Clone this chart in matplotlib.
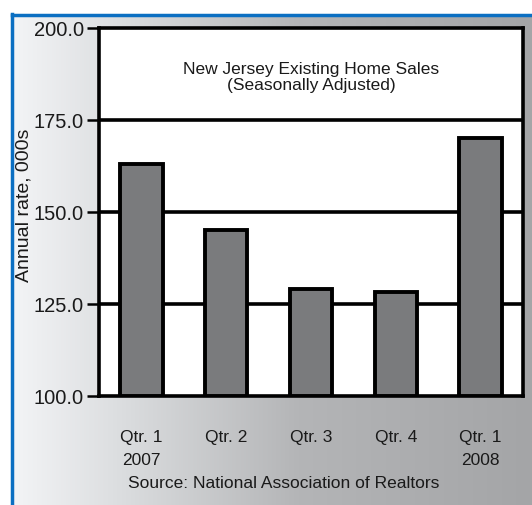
import matplotlib
matplotlib.use("Agg")
import matplotlib.pyplot as plt
import numpy as np
from matplotlib.colors import LinearSegmentedColormap

# quarterly existing home sales, seasonally adjusted annual rate (000s)
quarters = ["Qtr. 1\n2007", "Qtr. 2", "Qtr. 3", "Qtr. 4", "Qtr. 1\n2008"]
sales = [163.0, 145.0, 129.0, 128.3, 170.0]
yticks = [100.0, 125.0, 150.0, 175.0, 200.0]

plt.rcParams['font.family'] = ['Liberation Sans', 'DejaVu Sans']
txt_color = "#1a1a1a"

fig = plt.figure(figsize=(5.32, 5.06), dpi=100)
W, H = 532, 506

def fx(px):
    return px / W

def fy(py):
    return 1 - py / H

# gray gradient background inside the blue frame
bg = fig.add_axes([fx(13), 0, 1 - fx(13), fy(17)])
grad = np.linspace(0, 1, 256)
cmap = LinearSegmentedColormap.from_list(
    "bg", [(0, "#f3f4f6"), (0.2, "#dcdee0"), (0.55, "#b4b5b7"), (1, "#a4a5a7")])
bg.imshow(grad[None, :], aspect="auto", cmap=cmap, extent=[0, 1, 0, 1])
bg.set_axis_off()

# blue frame lines
fig.add_artist(plt.Line2D([fx(11.5), 1], [fy(15.5), fy(15.5)], color="#0b6fc2", lw=2.5))
fig.add_artist(plt.Line2D([fx(11.5), fx(11.5)], [0, fy(15)], color="#0b6fc2", lw=2.5))

left, right, top, bottom = 99, 523, 29, 397
ax = fig.add_axes([fx(left), fy(bottom), fx(right - left), (bottom - top) / H])
ax.set_facecolor("white")

x = np.arange(len(sales))
ax.bar(x, [s - 100 for s in sales], bottom=100, width=0.5,
       color="#7a7b7d", edgecolor="black", linewidth=2.8, zorder=3)

ax.set_xlim(-0.5, 4.5)
ax.set_ylim(100, 200)
ax.set_yticks(yticks)
ax.set_yticklabels([f"{v:.1f}" for v in yticks], fontsize=14.5, color=txt_color)
for v in yticks[1:-1]:
    ax.axhline(v, color="black", lw=2.6, zorder=2)
ax.tick_params(axis="y", length=9, width=1.8, pad=2, direction="out")
ax.set_xticks([])
for s in ax.spines.values():
    s.set_linewidth(2.6)

ax.text(0.5, 0.868, "New Jersey Existing Home Sales\n(Seasonally Adjusted)",
        transform=ax.transAxes, ha="center", va="center", fontsize=12.5,
        color=txt_color, linespacing=1.15)

# quarter labels below the plot
for i, q in enumerate(quarters):
    xf = fx(left) + (i + 0.5) / 5 * fx(right - left)
    lines = q.split("\n")
    fig.text(xf, fy(438), lines[0], ha="center", va="center", fontsize=12.5,
             color=txt_color)
    if len(lines) > 1:
        fig.text(xf, fy(461), lines[1], ha="center", va="center", fontsize=12.5,
                 color=txt_color)

fig.text(fx(128), fy(484), "Source: National Association of Realtors", ha="left",
         va="center", fontsize=12.5, color=txt_color)

fig.text(fx(24), fy(205), "Annual rate, 000s", rotation=90, ha="center", va="center",
         fontsize=14, color=txt_color)

fig.savefig("out.png", dpi=100)
